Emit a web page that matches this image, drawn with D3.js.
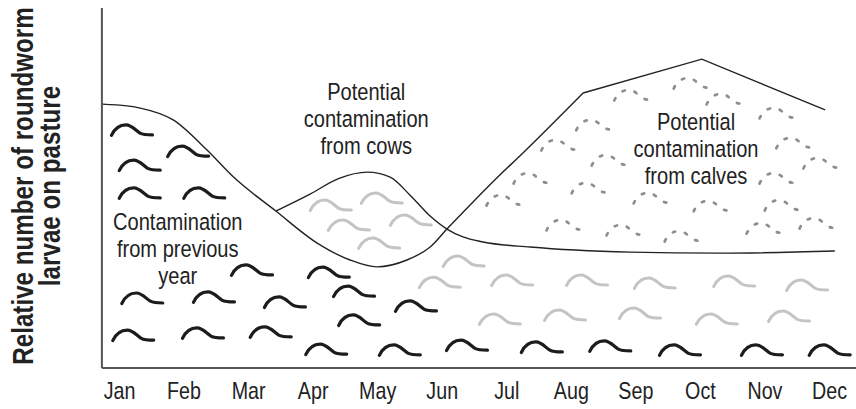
<!DOCTYPE html>
<html>
<head>
	<meta http-equiv="Content-Type" content="text/html;charset=UTF-8">
	<title>Roundworm larvae on pasture</title>
	<style>
		body { margin: 0; background: #fff; }
		svg text { font-family: "Liberation Sans", Arial, sans-serif; fill: #222; }
	</style>
</head>
<body>

	<div class="chart"></div>

	<script src="https://d3js.org/d3.v7.min.js"></script>
	<script>

		/* months on the x axis (0 = Jan) */
		var months = ["Jan", "Feb", "Mar", "Apr", "May", "Jun", "Jul", "Aug", "Sep", "Oct", "Nov", "Dec"];

		/* curves: [month, relative level 0..100] */
		var prevYear = [
			[-0.26, 73.3], [0.12, 72.8], [0.33, 72.2], [0.84, 68.9], [1.36, 60.6], [1.77, 53.1],
			[2.43, 43.6], [3.07, 34.7], [3.58, 30.0], [4.00, 28.1], [4.46, 30.0], [4.82, 33.6],
			[5.08, 38.6], [5.44, 45.3], [5.90, 53.6], [6.21, 58.9], [7.19, 76.4]
		];
		var calvesTop = [[7.19, 76.4], [9.03, 85.8], [10.94, 71.7]];
		var cows = [
			[2.43, 43.6], [2.96, 48.3], [3.40, 52.6], [3.85, 54.4], [4.20, 53.0], [4.51, 48.0],
			[4.82, 42.2], [5.08, 38.6], [5.33, 36.4], [5.64, 35.0], [6.37, 33.6], [7.92, 32.2],
			[9.31, 31.9], [11.09, 32.5]
		];

		/* worms: [month, level] of the left end */
		var wormsPrev = [
			[-0.14, 64.2], [0.73, 58.3], [-0.02, 54.4], [-0.02, 46.7], [0.98, 46.7], [1.72, 25.3],
			[2.91, 24.7], [0.02, 17.5], [1.13, 17.8], [2.23, 16.4], [3.30, 19.4], [4.26, 15.3],
			[-0.12, 7.2], [0.96, 7.8], [2.01, 8.1], [3.38, 11.4], [2.87, 3.3], [4.01, 3.1],
			[5.05, 4.4], [6.21, 3.9], [7.27, 4.2], [8.35, 3.1], [9.62, 3.1], [10.67, 3.1]
		];
		var wormsCows = [
			[2.94, 43.3], [3.73, 45.3], [3.22, 37.8], [4.18, 39.2], [3.69, 32.8], [5.00, 27.8],
			[4.63, 21.9], [5.75, 22.5], [6.91, 22.5], [7.96, 21.7], [9.19, 22.2], [10.32, 21.1],
			[5.56, 11.7], [6.57, 12.8], [7.73, 13.3], [8.92, 11.7], [10.04, 12.5]
		];
		var wormsCalves = [
			[7.65, 73.9], [8.57, 77.2], [9.08, 72.8], [9.90, 68.9], [7.06, 65.6], [6.52, 60.0],
			[7.30, 55.8], [10.16, 60.6], [10.58, 55.0], [6.09, 50.8], [6.99, 48.1], [9.90, 50.8],
			[5.67, 44.7], [7.95, 45.3], [8.88, 43.1], [9.98, 43.3], [6.60, 37.8], [7.53, 36.4],
			[8.43, 34.7], [9.70, 36.9], [10.52, 38.3]
		];

		/* annotations: lines, centre month, first baseline level */
		var labels = [
			{ lines: ["Potential", "contamination", "from cows"], m: 3.83, v: 74.4 },
			{ lines: ["Potential", "contamination", "from calves"], m: 8.94, v: 66.1 },
			{ lines: ["Contamination", "from previous", "year"], m: 0.91, v: 38.3 }
		];
		var yTitle = ["Relative number of roundworm", "larvae on pasture"];

		var w = 856;
		var h = 409;
		var narrow = 0.82; /* condensed look: no narrow face installed */

		var SVG = d3.select("div.chart").append("svg")
					.attr("width", w)
					.attr("height", h);

		var xSCALE = d3.scaleLinear().domain([0, 11]).range([119, 829]);
		var ySCALE = d3.scaleLinear().domain([0, 100]).range([368, 8]);

		/* worm glyph, drawn from its left end */
		var wormPath = "M1.5,-1.5 C5,-9 10,-12 16,-12 C22,-12 26,-6 30,-3.8 C33,-2.2 36,-2 42.5,-2";

		function drawWorms(data, cls, color, width, dash) {
			SVG.append("g").attr("class", cls)
				.selectAll("path")
				.data(data)
				.enter()
				.append("path")
				.attr("d", wormPath)
				.attr("transform", function(d){
					return "translate(" + xSCALE(d[0]) + "," + ySCALE(d[1]) + ")";
				})
				.attr("fill", "none")
				.attr("stroke", color)
				.attr("stroke-width", width)
				.attr("stroke-linecap", "round")
				.attr("stroke-dasharray", dash);
		}

		drawWorms(wormsPrev, "worms-prev", "#1c1c1c", 3.2, null);
		drawWorms(wormsCows, "worms-cows", "#c4c4c4", 3.0, null);
		drawWorms(wormsCalves, "worms-calves", "#8e8e8e", 2.7, "2.5,10");

		/* curves */
		var smooth = d3.line()
			.x(function(d){ return xSCALE(d[0]); })
			.y(function(d){ return ySCALE(d[1]); })
			.curve(d3.curveMonotoneX);
		var straight = d3.line()
			.x(function(d){ return xSCALE(d[0]); })
			.y(function(d){ return ySCALE(d[1]); });

		[[prevYear, smooth], [cows, smooth], [calvesTop, straight]].forEach(function(p){
			SVG.append("path")
				.attr("d", p[1](p[0]))
				.attr("fill", "none")
				.attr("stroke", "#222")
				.attr("stroke-width", 1.4);
		});

		/* axes frame */
		SVG.append("line")
			.attr("x1", xSCALE(-0.265)).attr("x2", xSCALE(-0.265))
			.attr("y1", ySCALE(100)).attr("y2", ySCALE(0))
			.attr("stroke", "#555").attr("stroke-width", 2);
		SVG.append("line")
			.attr("x1", xSCALE(-0.265)).attr("x2", w)
			.attr("y1", ySCALE(0)).attr("y2", ySCALE(0))
			.attr("stroke", "#555").attr("stroke-width", 2);

		var xAxis = d3.axisBottom(xSCALE)
					  .tickValues(d3.range(12))
					  .tickFormat(function(i){ return months[i]; })
					  .tickSize(0)
					  .tickPadding(14);

		var gx = SVG.append("g")
			  .attr("transform", "translate(0," + ySCALE(0) + ")")
			  .call(xAxis);
		gx.select(".domain").remove();
		gx.selectAll("text")
			.attr("font-family", null)
			.attr("transform", "scale(" + narrow + ",1)")
			.style("font-size", "24px")
			.style("fill", "#222");

		/* annotations */
		labels.forEach(function(l){
			var t = SVG.append("text")
				.attr("transform", "translate(" + xSCALE(l.m) + "," + ySCALE(l.v) + ") scale(" + narrow + ",1)")
				.attr("text-anchor", "middle")
				.style("font-size", "24.5px");
			t.selectAll("tspan")
				.data(l.lines)
				.enter()
				.append("tspan")
				.attr("x", 0)
				.attr("y", function(d, i){ return i * 27; })
				.text(function(d){ return d; });
		});

		/* y title */
		SVG.append("text")
			.attr("transform", "translate(33,186) rotate(-90) scale(" + narrow + ",1)")
			.attr("text-anchor", "middle")
			.style("font-size", "29.5px")
			.style("font-weight", "bold")
			.selectAll("tspan")
			.data(yTitle)
			.enter()
			.append("tspan")
			.attr("x", 0)
			.attr("y", function(d, i){ return i * 27; })
			.text(function(d){ return d; });

	</script>

</body>
</html>
